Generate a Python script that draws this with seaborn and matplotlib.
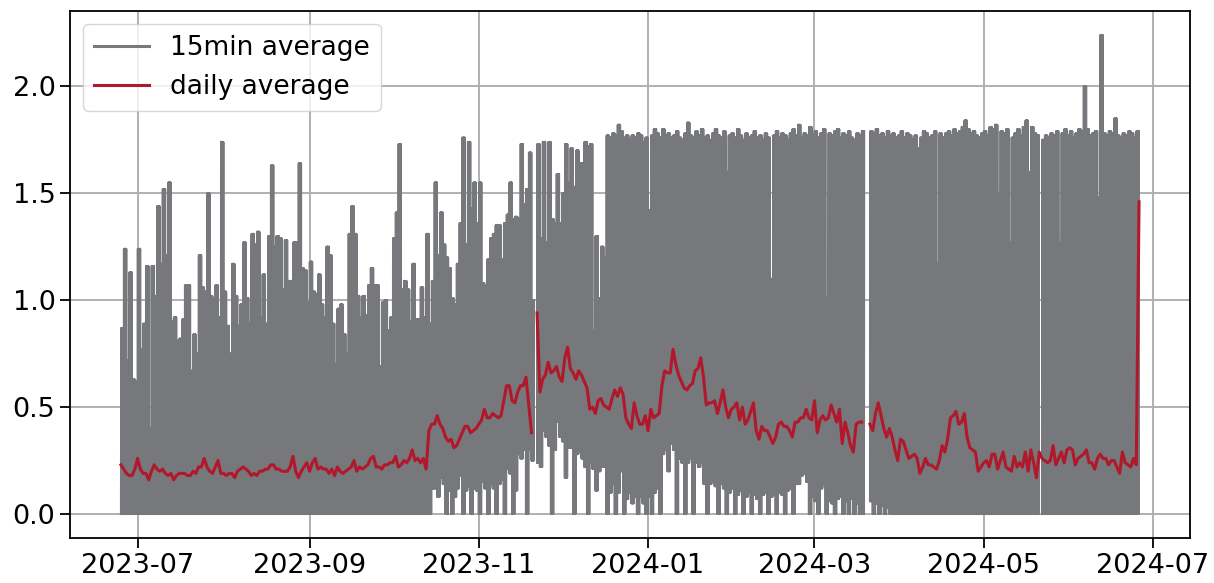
import numpy as np
import pandas as pd
import matplotlib
matplotlib.use("Agg")
import matplotlib.pyplot as plt
import matplotlib.dates as mdates
import seaborn as sns

nan = np.nan

FIRST_DAY = "2023-06-25"

# Daily peak of the 15-min series (one value per day, 2023-06-25 .. 2024-06-25)
peak_15min = [
    # 2023-06-25 .. 06-30
    0.87, 1.24, 0.72, 1.13, 0.63, 0.62,
    # 2023-07
    1.24, 0.77, 0.89, 1.16, 0.40, 1.16, 1.02, 1.44, 1.17, 1.52,
    1.21, 1.55, 0.90, 0.92, 0.81, 0.82, 0.91, 1.07, 1.07, 0.67,
    0.84, 0.75, 1.21, 1.06, 1.04, 1.50, 1.02, 1.01, 1.07, 0.92,
    1.74,
    # 2023-08
    1.04, 0.88, 0.75, 1.17, 1.02, 0.88, 0.98, 1.27, 1.01,
    0.89, 1.31, 1.26, 1.32, 0.92, 1.12, 0.89, 1.30, 1.63, 1.25,
    1.30, 1.29, 1.05, 1.28, 1.09, 1.09, 1.27, 1.27, 1.64, 1.15,
    1.14, 0.99,
    # 2023-09
    1.18, 1.04, 1.03, 1.12, 0.98, 0.92, 1.25, 1.21,
    0.89, 0.70, 0.96, 0.98, 0.84, 0.75, 1.31, 1.44, 1.31, 1.02,
    0.92, 1.02, 0.93, 1.07, 1.15, 1.07, 1.07, 0.69, 0.99, 1.00,
    0.86, 0.92,
    # 2023-10
    1.29, 1.41, 1.73, 1.05, 1.09, 1.05, 0.90, 1.17,
    0.91, 0.91, 1.06, 0.92, 1.31, 0.89, 1.09, 1.55, 1.21, 1.41,
    1.26, 1.20, 1.15, 1.01, 0.98, 1.17, 1.36, 1.76, 1.26, 1.74,
    1.43, 1.55, 1.36,
    # 2023-11
    1.55, 1.08, 1.07, 1.19, 1.29, 1.31, 1.35,
    1.35, 1.19, 1.36, 1.40, 1.55, 1.38, 1.39, 1.38, 1.73, 1.45,
    1.52, 1.69, 1.00, nan, 1.73, 1.29, 1.74, 1.27, 1.74, 1.38,
    1.36, 1.59, 1.36,
    # 2023-12
    1.50, 1.73, 1.55, 1.71, 1.53, 1.70, 1.64, 1.64, 1.74, 1.72,
    1.73, 0.86, 1.30, 1.01, 1.25, 1.20, 1.77, 1.76, 1.78, 1.77,
    1.82, 1.79, 1.76, 1.77, 1.75, 1.77, 1.76, 1.78, 1.77, 1.74,
    1.76,
    # 2024-01
    1.42, 1.77, 1.80, 1.78, 1.76, 1.80, 1.77, 1.78, 1.76, 1.77,
    1.79, 1.76, 1.75, 1.78, 1.83, 1.77, 1.76, 1.79, 1.77, 1.80,
    1.76, 1.77, 1.75, 1.78, 1.80, 1.77, 1.76, 1.79, 1.60, 1.77,
    1.78,
    # 2024-02
    1.76, 1.80, 1.77, 1.75, 1.78, 1.76, 1.77, 1.79, 1.76, 1.77,
    1.75, 1.78, 1.76, 1.10, 1.77, 1.79, 1.76, 1.78, 1.77, 1.75,
    1.78, 1.80, 1.77, 1.82, 1.76, 1.78, 1.77, 1.81, 1.77,
    # 2024-03
    1.79, 1.76, 1.78, 1.80, 1.01, 1.78, 1.77, 1.79, 1.80, 1.76,
    1.78, 1.77, 1.79, 1.76, 1.75, 1.78, 1.77, 1.79, nan, nan,
    1.79, 1.78, 1.80, 1.77, 1.78, 1.76, 1.79, 1.77, 1.78, 1.76,
    1.77,
    # 2024-04
    1.79, 1.76, 1.78, 1.77, 1.75, 1.77, 1.71, 1.76, 1.79, 1.78,
    1.76, 1.77, 1.79, 1.17, 1.78, 1.76, 1.78, 1.79, 1.77, 1.80,
    1.78, 1.79, 1.81, 1.84, 1.80, 1.78, 1.79, 1.77, 1.76, 1.78,
    # 2024-05
    1.79, 1.77, 1.81, 1.80, 1.82, 1.50, 1.79, 1.78, 1.80, 1.27,
    1.76, 1.78, 1.80, 1.77, 1.81, 1.84, 1.60, 1.81, 1.78, 1.77,
    nan, 1.75, 1.77, 1.76, 1.78, 1.77, 1.79, 1.27, 1.78, 1.80,
    1.77,
    # 2024-06-01 .. 06-25
    1.79, 1.76, 1.78, 1.80, 1.79, 2.00, 1.80, 1.77, 1.78, 1.79,
    1.48, 2.24, 1.78, 1.77, 1.79, 1.78, 1.85, 1.77, 1.76, 1.78,
    1.77, 1.79, 1.78, 1.76, 1.79,
]

# Daily low of the 15-min series where it stays above zero (2023-10-14 .. 2024-03-27);
# the series reaches 0.0 every day outside this stretch
LOW_START = "2023-10-14"
low_15min = [
    0.00, 0.12, 0.12, 0.08, 0.17, 0.14, 0.00, 0.11, 0.00, 0.08,
    0.12, 0.18, 0.00, 0.11, 0.13, 0.00, 0.12, 0.11, 0.00, 0.15,
    0.12, 0.00, 0.14, 0.12, 0.00, 0.14, 0.16, 0.00, 0.21, 0.19,
    0.00, 0.11, 0.28, 0.26, 0.30, 0.00, 0.30, 0.25, nan, 0.24,
    0.22, 0.39, 0.36, 0.32, 0.00, 0.30, 0.43, 0.36, 0.34, 0.17,
    0.31, 0.31, 0.00, 0.28, 0.29, 0.26, 0.22, 0.00, 0.24, 0.21,
    0.11, 0.20, 0.22, 0.22, 0.00, 0.10, 0.14, 0.00, 0.10, 0.20,
    0.00, 0.07, 0.10, 0.05, 0.08, 0.00, 0.08, 0.05, 0.00, 0.08,
    0.00, 0.10, 0.12, 0.00, 0.28, 0.30, 0.20, 0.33, 0.30, 0.00,
    0.26, 0.24, 0.00, 0.24, 0.26, 0.00, 0.24, 0.22, 0.24, 0.14,
    0.00, 0.14, 0.15, 0.13, 0.00, 0.14, 0.12, 0.00, 0.10, 0.12,
    0.00, 0.09, 0.11, 0.00, 0.08, 0.10, 0.00, 0.09, 0.07, 0.00,
    0.09, 0.10, 0.00, 0.08, 0.09, 0.00, 0.10, 0.09, 0.00, 0.11,
    0.12, 0.00, 0.14, 0.14, 0.18, 0.19, 0.15, 0.00, 0.08, 0.06,
    0.00, 0.12, 0.14, 0.00, 0.06, 0.05, 0.00, 0.07, 0.08, 0.00,
    0.06, 0.00, 0.07, 0.00, 0.05, 0.00, 0.00, nan, nan, 0.06,
    0.00, 0.05, 0.00, 0.04, 0.00, 0.03, 0.00,
]

# Daily average (2023-06-25 .. 2024-06-26)
daily_avg = [
    # 2023-06-25 .. 06-30
    0.23, 0.21, 0.19, 0.18, 0.18, 0.21,
    # 2023-07
    0.26, 0.21, 0.19, 0.19, 0.16, 0.20, 0.23, 0.21, 0.20, 0.21,
    0.19, 0.18, 0.19, 0.16, 0.18, 0.19, 0.19, 0.19, 0.18, 0.18,
    0.20, 0.19, 0.22, 0.22, 0.26, 0.22, 0.20, 0.19, 0.22, 0.25,
    0.19,
    # 2023-08
    0.19, 0.18, 0.19, 0.19, 0.17, 0.20, 0.21, 0.22, 0.21,
    0.20, 0.18, 0.19, 0.18, 0.20, 0.20, 0.21, 0.21, 0.23, 0.23,
    0.21, 0.21, 0.20, 0.20, 0.20, 0.22, 0.27, 0.20, 0.17, 0.20,
    0.22, 0.24,
    # 2023-09
    0.20, 0.24, 0.26, 0.21, 0.22, 0.21, 0.21, 0.19, 0.21, 0.18,
    0.22, 0.20, 0.19, 0.20, 0.21, 0.22, 0.25, 0.20, 0.22, 0.21,
    0.22, 0.23, 0.26, 0.27, 0.22, 0.22, 0.21, 0.23, 0.23, 0.24,
    # 2023-10
    0.24, 0.27, 0.22, 0.23, 0.25, 0.24, 0.26, 0.30, 0.25, 0.26,
    0.24, 0.26, 0.21, 0.39, 0.42, 0.42, 0.46, 0.42, 0.40, 0.36,
    0.34, 0.35, 0.31, 0.32, 0.35, 0.38, 0.41, 0.41, 0.38, 0.39,
    0.40,
    # 2023-11
    0.42, 0.44, 0.49, 0.45, 0.45, 0.47, 0.46, 0.45, 0.46, 0.53,
    0.60, 0.60, 0.53, 0.52, 0.57, 0.60, 0.60, 0.64, 0.51, 0.38,
    nan, 0.94, 0.57, 0.63, 0.65, 0.71, 0.66, 0.67, 0.69, 0.64,
    # 2023-12
    0.62, 0.73, 0.78, 0.68, 0.66, 0.63, 0.67, 0.65, 0.62, 0.59,
    0.49, 0.50, 0.47, 0.53, 0.54, 0.51, 0.50, 0.49, 0.54, 0.58,
    0.55, 0.59, 0.56, 0.45, 0.42, 0.40, 0.52, 0.46, 0.42, 0.42,
    0.46,
    # 2024-01
    0.39, 0.49, 0.45, 0.46, 0.47, 0.60, 0.67, 0.66, 0.66, 0.77,
    0.70, 0.65, 0.62, 0.59, 0.58, 0.60, 0.61, 0.67, 0.68, 0.73,
    0.64, 0.51, 0.52, 0.52, 0.53, 0.47, 0.52, 0.58, 0.50, 0.45,
    0.49,
    # 2024-02
    0.50, 0.52, 0.44, 0.50, 0.42, 0.44, 0.48, 0.52, 0.39, 0.35,
    0.41, 0.39, 0.39, 0.36, 0.33, 0.36, 0.42, 0.43, 0.41, 0.41,
    0.39, 0.36, 0.43, 0.43, 0.45, 0.45, 0.49, 0.45, 0.44,
    # 2024-03
    0.53, 0.38, 0.44, 0.46, 0.44, 0.45, 0.51, 0.47, 0.43, 0.49,
    0.33, 0.43, 0.38, 0.32, 0.29, 0.42, 0.43, 0.43, nan, nan,
    0.42, 0.39, 0.47, 0.52, 0.46, 0.40, 0.36, 0.40, 0.36, 0.30,
    0.25,
    # 2024-04
    0.35, 0.34, 0.30, 0.26, 0.27, 0.28, 0.26, 0.19, 0.22, 0.26,
    0.23, 0.23, 0.22, 0.21, 0.25, 0.32, 0.29, 0.35, 0.45, 0.46,
    0.48, 0.42, 0.43, 0.47, 0.36, 0.31, 0.30, 0.29, 0.20, 0.22,
    # 2024-05
    0.24, 0.25, 0.22, 0.28, 0.28, 0.21, 0.25, 0.29, 0.22, 0.21,
    0.20, 0.27, 0.22, 0.24, 0.22, 0.29, 0.20, 0.30, 0.24, 0.17,
    0.29, 0.26, 0.25, 0.24, 0.25, 0.32, 0.23, 0.26, 0.29, 0.24,
    0.30,
    # 2024-06-01 .. 06-26
    0.31, 0.30, 0.23, 0.26, 0.27, 0.28, 0.30, 0.24, 0.24, 0.21,
    0.26, 0.28, 0.26, 0.26, 0.23, 0.25, 0.25, 0.22, 0.19, 0.29,
    0.24, 0.23, 0.22, 0.26, 0.23, 1.46,
]

GRAY = "#76787b"
RED = "#b2182b"

# ---- build the 15-min line: each day swings between its low and its peak ----
SWINGS_PER_DAY = 6
days = pd.date_range(FIRST_DAY, periods=len(peak_15min), freq="D")
low_all = np.zeros(len(days))
i0 = (pd.Timestamp(LOW_START) - days[0]).days
low_all[i0:i0 + len(low_15min)] = np.nan_to_num(np.array(low_15min, dtype=float))
step = pd.Timedelta(hours=24 / (2 * SWINGS_PER_DAY))
t15, v15 = [], []
for day, lo, hi in zip(days, low_all, peak_15min):
    for k in range(2 * SWINGS_PER_DAY):
        t15.append(day + k * step)
        v15.append(nan if np.isnan(hi) else (lo if k % 2 == 0 else hi))

daily_days = pd.date_range(FIRST_DAY, periods=len(daily_avg), freq="D")


def segments(t, v):
    st, sv = [], []
    for ti, vi in zip(t, v):
        if vi is None or np.isnan(vi):
            if st:
                yield st, sv
            st, sv = [], []
        else:
            st.append(ti)
            sv.append(vi)
    if st:
        yield st, sv


plt.rcParams.update({
    "font.family": ["DejaVu Sans"],
    "font.size": 19,
    "xtick.labelsize": 19.5,
    "ytick.labelsize": 19.5,
    "axes.linewidth": 1.3,
    "xtick.major.size": 7,
    "ytick.major.size": 7,
    "xtick.major.width": 1.3,
    "ytick.major.width": 1.3,
})

fig, ax = plt.subplots(figsize=(12.14, 5.83), dpi=100)
fig.subplots_adjust(left=0.0577, right=0.9802, bottom=0.0772, top=0.9811)

for i, (st, sv) in enumerate(segments(t15, v15)):
    sns.lineplot(x=pd.Series(pd.to_datetime(st)), y=pd.Series(sv), ax=ax,
                 color=GRAY, lw=1.5, estimator=None, sort=False,
                 label="15min average" if i == 0 else None)

for i, (st, sv) in enumerate(segments(list(daily_days), daily_avg)):
    sns.lineplot(x=pd.Series(pd.to_datetime(st)), y=pd.Series(sv), ax=ax,
                 color=RED, lw=2.2, estimator=None, sort=False,
                 label="daily average" if i == 0 else None)

ax.set_xlabel("")
ax.set_ylabel("")
ax.xaxis.set_major_locator(mdates.MonthLocator(bymonth=[1, 3, 5, 7, 9, 11]))
ax.xaxis.set_major_formatter(mdates.DateFormatter("%Y-%m"))
ax.set_yticks([0.0, 0.5, 1.0, 1.5, 2.0])
ax.grid(True, color="#b0b0b0", lw=1.4)
ax.set_axisbelow(True)
for s in ax.spines.values():
    s.set_color("black")
leg = ax.legend(loc="upper left", handlelength=2.1)
for h in leg.legend_handles:
    h.set_linewidth(2.2)

fig.savefig("out.png", dpi=100)
